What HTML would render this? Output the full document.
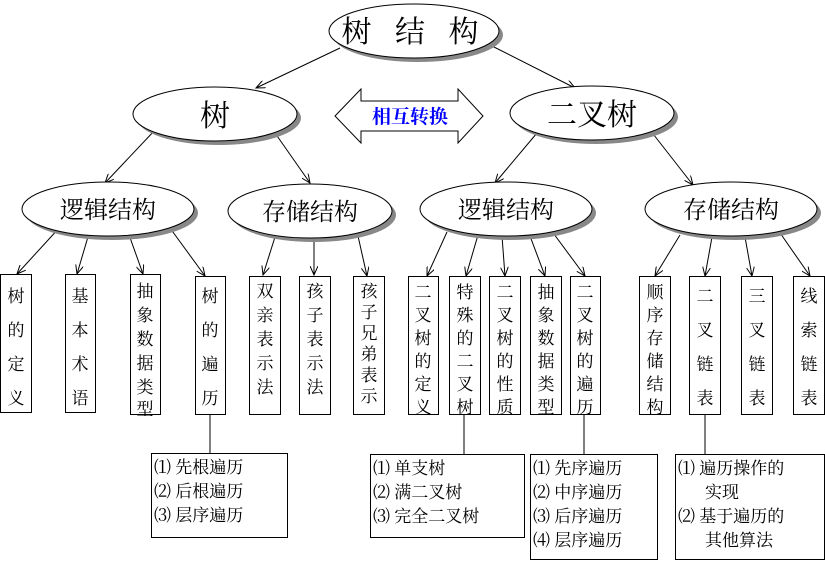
<!DOCTYPE html>
<html><head><meta charset="utf-8"><style>
html,body{margin:0;padding:0;background:#fff;}
svg text{font-family:"Liberation Serif","Noto Serif CJK SC",serif;fill:#000;}
</style></head><body>
<svg width="825" height="577" viewBox="0 0 825 577" xmlns="http://www.w3.org/2000/svg">
<defs>
<marker id="a" markerWidth="10" markerHeight="8" refX="9" refY="4" orient="auto" markerUnits="userSpaceOnUse">
<path d="M0,0 L9,4 L0,8" fill="none" stroke="#000" stroke-width="1"/></marker>
</defs>
<g stroke="#000" stroke-width="1" marker-end="url(#a)">
<line x1="340" y1="48" x2="256" y2="88"/>
<line x1="490" y1="45" x2="575" y2="88"/>
<line x1="155" y1="130" x2="105" y2="183"/>
<line x1="275" y1="133" x2="310" y2="183"/>
<line x1="537" y1="133" x2="495" y2="183"/>
<line x1="650" y1="130" x2="693" y2="185"/>
<line x1="60" y1="227" x2="17" y2="274"/>
<line x1="90" y1="230" x2="77" y2="274"/>
<line x1="128" y1="232" x2="143" y2="274"/>
<line x1="170" y1="228" x2="205" y2="276"/>
<line x1="275" y1="237" x2="263" y2="275"/>
<line x1="314" y1="238" x2="314" y2="275"/>
<line x1="358" y1="236" x2="367" y2="276"/>
<line x1="447" y1="232" x2="427" y2="276"/>
<line x1="478" y1="235" x2="466" y2="276"/>
<line x1="502" y1="236" x2="505" y2="276"/>
<line x1="530" y1="236" x2="545" y2="276"/>
<line x1="548" y1="226" x2="585" y2="276"/>
<line x1="680" y1="235" x2="655" y2="276"/>
<line x1="712" y1="237" x2="705" y2="276"/>
<line x1="745" y1="237" x2="752" y2="276"/>
<line x1="778" y1="230" x2="810" y2="276"/>
</g>
<g stroke="#000" fill="#fff">
<ellipse cx="418" cy="35" rx="85" ry="27" fill="#888" stroke="none"/>
<ellipse cx="414" cy="31" rx="85" ry="27"/>
<ellipse cx="219" cy="118" rx="82" ry="27" fill="#888" stroke="none"/>
<ellipse cx="215" cy="114" rx="82" ry="27"/>
<ellipse cx="596" cy="117" rx="82" ry="27" fill="#888" stroke="none"/>
<ellipse cx="592" cy="113" rx="82" ry="27"/>
<ellipse cx="112" cy="213" rx="86" ry="27" fill="#888" stroke="none"/>
<ellipse cx="108" cy="209" rx="86" ry="27"/>
<ellipse cx="314" cy="215" rx="82" ry="27" fill="#888" stroke="none"/>
<ellipse cx="310" cy="211" rx="82" ry="27"/>
<ellipse cx="510" cy="213" rx="86" ry="27" fill="#888" stroke="none"/>
<ellipse cx="506" cy="209" rx="86" ry="27"/>
<ellipse cx="735" cy="213" rx="86" ry="27" fill="#888" stroke="none"/>
<ellipse cx="731" cy="209" rx="86" ry="27"/>
<polygon points="335,116 361,89 361,101 458,101 458,89 483,116 458,143 458,131 361,131 361,143"/>
</g>
<g font-size="30" text-anchor="middle">
<text x="414" y="42" letter-spacing="8">树 结 构</text>
<text x="215" y="126">树</text>
<text x="592" y="125">二叉树</text>
</g>
<g font-size="24" text-anchor="middle">
<text x="108" y="218">逻辑结构</text>
<text x="310" y="220">存储结构</text>
<text x="506" y="218">逻辑结构</text>
<text x="731" y="218">存储结构</text>
</g>
<text x="410" y="123" font-size="19" text-anchor="middle" style="fill:#00f;font-weight:bold">相互转换</text>
<g stroke="#000" fill="none">
<rect x="0.5" y="274.5" width="31" height="138"/>
<rect x="65.5" y="274.5" width="30" height="138"/>
<rect x="130.5" y="274.5" width="30" height="140"/>
<rect x="195.5" y="276.5" width="30" height="138"/>
<rect x="249.5" y="276.5" width="31" height="138"/>
<rect x="299.5" y="276.5" width="31" height="138"/>
<rect x="353.5" y="276.5" width="31" height="138"/>
<rect x="408.5" y="276.5" width="30" height="138"/>
<rect x="449.5" y="276.5" width="31" height="138"/>
<rect x="489.5" y="276.5" width="31" height="138"/>
<rect x="530.5" y="276.5" width="31" height="138"/>
<rect x="570.5" y="276.5" width="30" height="138"/>
<rect x="639.5" y="276.5" width="31" height="138"/>
<rect x="689.5" y="276.5" width="31" height="138"/>
<rect x="741.5" y="276.5" width="31" height="138"/>
<rect x="793.5" y="276.5" width="31" height="138"/>
<line x1="210" y1="415" x2="210" y2="453"/>
<line x1="464" y1="415" x2="464" y2="454"/>
<line x1="584" y1="415" x2="584" y2="454"/>
<line x1="705" y1="415" x2="705" y2="454"/>
<rect x="151.5" y="453.5" width="136" height="84"/>
<rect x="370.5" y="454.5" width="154" height="83"/>
<rect x="530.5" y="454.5" width="127" height="105"/>
<rect x="675.5" y="454.5" width="149" height="105"/>
</g>
<g font-size="17" text-anchor="middle">
<text x="16" y="302">树</text><text x="16" y="336">的</text><text x="16" y="370">定</text><text x="16" y="404">义</text>
<text x="80" y="302">基</text><text x="80" y="336">本</text><text x="80" y="370">术</text><text x="80" y="404">语</text>
<text x="145" y="297">抽</text><text x="145" y="321">象</text><text x="145" y="345">数</text><text x="145" y="369">据</text><text x="145" y="393">类</text><text x="145" y="415">型</text>
<text x="210" y="302">树</text><text x="210" y="336">的</text><text x="210" y="370">遍</text><text x="210" y="404">历</text>
<text x="265" y="297">双</text><text x="265" y="321">亲</text><text x="265" y="345">表</text><text x="265" y="369">示</text><text x="265" y="393">法</text>
<text x="315" y="297">孩</text><text x="315" y="321">子</text><text x="315" y="345">表</text><text x="315" y="369">示</text><text x="315" y="393">法</text>
<text x="369" y="297">孩</text><text x="369" y="318">子</text><text x="369" y="339">兄</text><text x="369" y="360">弟</text><text x="369" y="381">表</text><text x="369" y="402">示</text><text x="369" y="411" dy="0"></text>
<text x="423" y="298">二</text><text x="423" y="321">叉</text><text x="423" y="344">树</text><text x="423" y="367">的</text><text x="423" y="390">定</text><text x="423" y="413">义</text>
<text x="465" y="298">特</text><text x="465" y="321">殊</text><text x="465" y="344">的</text><text x="465" y="367">二</text><text x="465" y="390">叉</text><text x="465" y="413">树</text>
<text x="505" y="298">二</text><text x="505" y="321">叉</text><text x="505" y="344">树</text><text x="505" y="367">的</text><text x="505" y="390">性</text><text x="505" y="413">质</text>
<text x="546" y="298">抽</text><text x="546" y="321">象</text><text x="546" y="344">数</text><text x="546" y="367">据</text><text x="546" y="390">类</text><text x="546" y="413">型</text>
<text x="585" y="298">二</text><text x="585" y="321">叉</text><text x="585" y="344">树</text><text x="585" y="367">的</text><text x="585" y="390">遍</text><text x="585" y="413">历</text>
<text x="655" y="298">顺</text><text x="655" y="321">序</text><text x="655" y="344">存</text><text x="655" y="367">储</text><text x="655" y="390">结</text><text x="655" y="413">构</text>
<text x="705" y="302">二</text><text x="705" y="336">叉</text><text x="705" y="370">链</text><text x="705" y="404">表</text>
<text x="757" y="302">三</text><text x="757" y="336">叉</text><text x="757" y="370">链</text><text x="757" y="404">表</text>
<text x="809" y="302">线</text><text x="809" y="336">索</text><text x="809" y="370">链</text><text x="809" y="404">表</text>
</g>
<text x="369" y="413" font-size="17" text-anchor="middle"></text>
<g font-size="17">
<text x="154" y="473">⑴ 先根遍历</text>
<text x="154" y="497">⑵ 后根遍历</text>
<text x="154" y="521">⑶ 层序遍历</text>
<text x="373" y="474">⑴ 单支树</text>
<text x="373" y="498">⑵ 满二叉树</text>
<text x="373" y="522">⑶ 完全二叉树</text>
<text x="533" y="474">⑴ 先序遍历</text>
<text x="533" y="498">⑵ 中序遍历</text>
<text x="533" y="522">⑶ 后序遍历</text>
<text x="533" y="546">⑷ 层序遍历</text>
<text x="678" y="474">⑴ 遍历操作的</text>
<text x="705" y="498">实现</text>
<text x="678" y="522">⑵ 基于遍历的</text>
<text x="705" y="546">其他算法</text>
</g>
</svg>
</body></html>
